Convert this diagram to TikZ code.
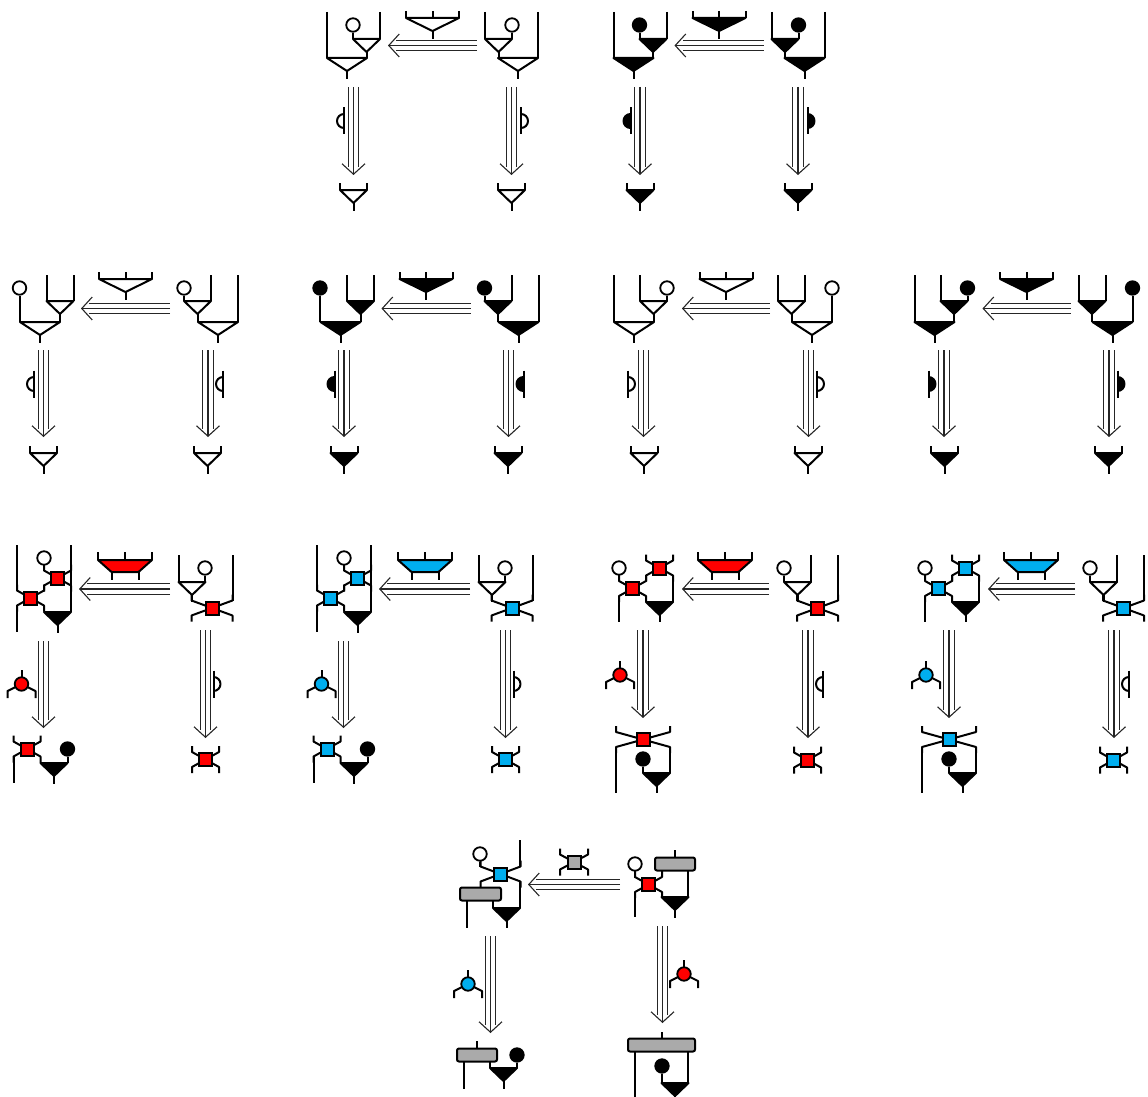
\documentclass[tikz,border=0pt]{standalone}
\usepackage{tikz}
\usetikzlibrary{arrows.meta,calc,positioning}
\definecolor{alphared}{HTML}{FF0000}
\definecolor{betablue}{HTML}{00AEEF}
\definecolor{slotgray}{HTML}{AAAAAA}
\newcommand{\triplearrow}[2]{%
  \draw[rail] (#1) -- (#2);
  \draw[railtip] (#1) -- (#2);}
\tikzset{
  wire/.style    = {line width=2pt, line join=round},
  rail/.style    = {line width=1.1pt, draw=black!85, double=white, double distance=9.6pt, shorten >=8pt},
  railtip/.style = {line width=1.1pt, draw=black!85, -{Straight Barb[length=10.5pt,width=23pt]}},
  dot/.style     = {circle, draw, line width=1.8pt, minimum size=13.5pt, inner sep=0pt},
  sqbox/.style   = {draw, line width=2pt, minimum size=13pt, inner sep=0pt},
  slot/.style    = {draw, line width=2pt, fill=slotgray, rounded corners=2pt, inner sep=0pt, minimum height=13pt},
  pics/tri/.style n args={3}{code={
    \draw[wire, fill=#2] (-#1,0) -- (#1,0) -- (0,13) -- cycle;
    \draw[wire] (0,13) -- (0,{13+#3});
  }},
  pics/tristub/.style 2 args={code={
    \draw[wire] (-#1,-7) -- (-#1,0) (#1,-7) -- (#1,0);
    \draw[wire, fill=#2] (-#1,0) -- (#1,0) -- (0,13) -- cycle;
    \draw[wire] (0,13) -- (0,21);
  }},
  pics/trap/.style = {code={
    \draw[wire] (-27,-8) -- (-27,0) (0,-8) -- (0,0) (27,-8) -- (27,0);
    \draw[wire] (-13.5,12) -- (-13.5,20) (13.5,12) -- (13.5,20);
    \draw[wire, fill=#1] (-27,0) -- (27,0) -- (13.5,12) -- (-13.5,12) -- cycle;
  }},
  pics/semi/.style 2 args={code={
    \draw[wire, fill=#2] (0,-7) arc[start angle=90, end angle={90-180*#1}, radius=7pt];
    \draw[wire] (0,-13.5) -- (0,13.5);
  }},
  pics/sq/.style 2 args={code={
    \draw[wire] (-#1,-13.5) -- (-#1,-7.5) -- (#1,7.5) -- (#1,13.5);
    \draw[wire] (#1,-13.5) -- (#1,-7.5) -- (-#1,7.5) -- (-#1,13.5);
    \node[sqbox, fill=#2] (body) at (0,0) {};
  }},
  pics/leg/.style = {code={
    \draw[wire] (0,-14) -- (0,0);
    \draw[wire] (-14,14) -- (-14,7) -- (0,0) -- (14,7) -- (14,14);
    \node[dot, fill=#1] (body) at (0,0) {};
  }},
}
\begin{document}
\begin{tikzpicture}[x=1pt,y=-1pt]
  \useasboundingbox (0,0) rectangle (1148,1097);

  % first row
  \foreach \dx/\col in {0/white,286.5/black}{
  \begin{scope}[xshift=\dx]
    \node[dot, fill=\col] (u1) at (353,25) {};
    \node[dot, fill=\col] (u2) at (512,25) {};
    \draw[wire] (327,12) -- (327,58);
    \draw[wire] (380,12) -- (380,39);
    \draw[wire] (u1) -- (353,39);
    \pic at (347,58) {tri={20}{\col}{8}};
    \pic at (366.5,39) {tri={13.5}{\col}{6}};
    \draw[wire] (538,12) -- (538,58);
    \draw[wire] (485,12) -- (485,39);
    \draw[wire] (u2) -- (512,39);
    \pic at (518,58) {tri={20}{\col}{8}};
    \pic at (498.5,39) {tri={13.5}{\col}{6}};
    \pic at (432.5,18) {tristub={26.5}{\col}};
    \draw[wire] (432.5,11) -- (432.5,18);
    \coordinate (e1) at (477,45.5); \coordinate (e2) at (388,45.5);
    \triplearrow{e1}{e2}
    \coordinate (e3) at (353.5,87); \coordinate (e4) at (353.5,175);
    \triplearrow{e3}{e4}
    \coordinate (e5) at (511.5,87); \coordinate (e6) at (511.5,175);
    \triplearrow{e5}{e6}
    \pic at (344,121) {semi={-1}{\col}};
    \pic at (521,121) {semi={1}{\col}};
    \pic at (353.5,190) {tristub={13.5}{\col}};
    \pic at (511.5,190) {tristub={13.5}{\col}};
  \end{scope}}

  % second row, unit on the outside
  \foreach \dx/\col in {0/white,300.5/black}{
  \begin{scope}[xshift=\dx]
    \node[dot, fill=\col] (u1) at (19.5,288) {};
    \node[dot, fill=\col] (u2) at (184,288) {};
    \draw[wire] (u1) -- (19.5,322);
    \draw[wire] (46.5,275) -- (46.5,301);
    \draw[wire] (73.5,275) -- (73.5,301);
    \pic at (40,322) {tri={20}{\col}{8}};
    \pic at (60,301) {tri={13.5}{\col}{8}};
    \draw[wire] (u2) -- (184,301);
    \draw[wire] (211,275) -- (211,301);
    \draw[wire] (238,275) -- (238,322);
    \pic at (218,322) {tri={20}{\col}{8}};
    \pic at (197.5,301) {tri={13.5}{\col}{8}};
    \pic at (125.5,279) {tristub={26.5}{\col}};
    \draw[wire] (125.5,272) -- (125.5,279);
    \coordinate (e1) at (170,308.5); \coordinate (e2) at (81,308.5);
    \triplearrow{e1}{e2}
    \coordinate (e3) at (43.5,350); \coordinate (e4) at (43.5,437);
    \triplearrow{e3}{e4}
    \coordinate (e5) at (208,350); \coordinate (e6) at (208,437);
    \triplearrow{e5}{e6}
    \pic at (34,384) {semi={-1}{\col}};
    \pic at (223,384) {semi={-1}{\col}};
    \pic at (43.5,453) {tristub={13.5}{\col}};
    \pic at (207.5,453) {tristub={13.5}{\col}};
  \end{scope}}

  % second row, unit on the inside
  \foreach \dx/\col in {0/white,300.5/black}{
  \begin{scope}[xshift=\dx]
    \node[dot, fill=\col] (u1) at (667,288) {};
    \node[dot, fill=\col] (u2) at (832,288) {};
    \draw[wire] (614,275) -- (614,322);
    \draw[wire] (640,275) -- (640,301);
    \draw[wire] (u1) -- (667,301);
    \pic at (634,322) {tri={20}{\col}{8}};
    \pic at (653.5,301) {tri={13.5}{\col}{8}};
    \draw[wire] (778,275) -- (778,301);
    \draw[wire] (805,275) -- (805,301);
    \draw[wire] (u2) -- (832,322);
    \pic at (812,322) {tri={20}{\col}{8}};
    \pic at (791.5,301) {tri={13.5}{\col}{8}};
    \pic at (726,279) {tristub={26.5}{\col}};
    \draw[wire] (726,272) -- (726,279);
    \coordinate (e1) at (770,308.5); \coordinate (e2) at (682,308.5);
    \triplearrow{e1}{e2}
    \coordinate (e3) at (643.5,350); \coordinate (e4) at (643.5,437);
    \triplearrow{e3}{e4}
    \coordinate (e5) at (808.5,350); \coordinate (e6) at (808.5,437);
    \triplearrow{e5}{e6}
    \pic at (628,384) {semi={1}{\col}};
    \pic at (817,384) {semi={1}{\col}};
    \pic at (644,453) {tristub={13.5}{\col}};
    \pic at (808,453) {tristub={13.5}{\col}};
  \end{scope}}

  % third row, left pair
  \foreach \dx/\col in {0/alphared,300/betablue}{
  \begin{scope}[xshift=\dx]
    \node[dot, fill=white] (u1) at (44,558) {};
    \node[dot, fill=white] (u2) at (205,568) {};
    \draw[wire] (17,545) -- (17,591);
    \draw[wire] (17,605) -- (17,632);
    \draw[wire] (u1) -- (44,565);
    \draw[wire] (71,545) -- (71,612);
    \pic at (57.5,612) {tri={13.5}{black}{8}};
    \pic at (30.5,598) {sq={13.5}{\col}};
    \pic at (57.5,578) {sq={13.5}{\col}};
    \draw[wire] (178.5,555) -- (178.5,582);
    \draw[wire] (u2) -- (205,582);
    \draw[wire] (232.5,555) -- (232.5,601);
    \pic at (192,582) {tri={13.5}{white}{7}};
    \pic at (212,608) {sq={20.5}{\col}};
    \pic at (125,560) {trap=\col};
    \coordinate (e1) at (170,589); \coordinate (e2) at (79,589);
    \triplearrow{e1}{e2}
    \coordinate (e3) at (43.5,641); \coordinate (e4) at (43.5,728);
    \triplearrow{e3}{e4}
    \coordinate (e5) at (205.5,630); \coordinate (e6) at (205.5,738);
    \triplearrow{e5}{e6}
    \pic at (21.5,684) {leg=\col};
    \pic at (213.5,684) {semi={1}{white}};
    \node[dot, fill=black] (u3) at (67.5,749) {};
    \draw[wire] (13.5,756) -- (13.5,783);
    \draw[wire] (u3) -- (67.5,763);
    \pic at (54,763) {tri={13.5}{black}{8}};
    \pic at (27,749) {sq={13.5}{\col}};
    \pic at (205.5,759.5) {sq={13.5}{\col}};
  \end{scope}}

  % third row, right pair
  \foreach \dx/\col in {0/alphared,306/betablue}{
  \begin{scope}[xshift=\dx]
    \node[dot, fill=white] (u1) at (619,568) {};
    \node[dot, fill=white] (u2) at (784,568) {};
    \draw[wire] (u1) -- (619,576);
    \draw[wire] (619,596) -- (619,622);
    \draw[wire] (673,575) -- (673,602);
    \pic at (659.5,602) {tri={13.5}{black}{7}};
    \pic at (632.5,588.5) {sq={13.5}{\col}};
    \pic at (659.5,568) {sq={13.5}{\col}};
    \draw[wire] (u2) -- (784,582);
    \draw[wire] (811,555) -- (811,582);
    \draw[wire] (838,555) -- (838,601);
    \pic at (797.5,582) {tri={13.5}{white}{7}};
    \pic at (817.5,608) {sq={20.5}{\col}};
    \pic at (725,560) {trap=\col};
    \coordinate (e1) at (769,589); \coordinate (e2) at (682,589);
    \triplearrow{e1}{e2}
    \coordinate (e3) at (643,630); \coordinate (e4) at (643,718);
    \triplearrow{e3}{e4}
    \coordinate (e5) at (808,630); \coordinate (e6) at (808,738);
    \triplearrow{e5}{e6}
    \pic at (620,675) {leg=\col};
    \pic at (823,684) {semi={-1}{white}};
    \node[dot, fill=black] (u3) at (643,759) {};
    \draw[wire] (616,747) -- (616,793);
    \draw[wire] (670,747) -- (670,773);
    \draw[wire] (u3) -- (643,773);
    \pic at (656.5,773) {tri={13.5}{black}{7}};
    \pic at (643,739.5) {sq={27}{\col}};
    \pic at (807.5,760) {sq={13.5}{\col}};
  \end{scope}}

  % last row
  \node[dot, fill=white] (u1) at (480,854) {};
  \draw[wire] (u1) -- (480,867);
  \draw[wire] (520,840) -- (520,866);
  \draw[wire] (520,882) -- (520,908);
  \pic at (506.5,908) {tri={13.5}{black}{7}};
  \pic at (500.5,874) {sq={20}{betablue}};
  \node[slot, minimum width=41pt] (s1) at (480.5,894) {};
  \draw[wire] (467,901) -- (467,928);
  \draw[wire] (493,901) -- (493,908);
  \node[dot, fill=white] (u2) at (635,864) {};
  \draw[wire] (u2) -- (635,878);
  \draw[wire] (635,892) -- (635,917);
  \draw[wire] (688,871) -- (688,897);
  \pic at (675,897) {tri={13.5}{black}{8}};
  \pic at (648.5,884.5) {sq={13.5}{alphared}};
  \node[slot, minimum width=40pt] (s2) at (675,864) {};
  \draw[wire] (675,850) -- (s2);
  \pic at (574,862) {sq={14}{slotgray}};
  \coordinate (e1) at (620,884.5); \coordinate (e2) at (528,884.5);
  \triplearrow{e1}{e2}
  \coordinate (e3) at (490.5,936); \coordinate (e4) at (490.5,1033);
  \triplearrow{e3}{e4}
  \coordinate (e5) at (662.5,926); \coordinate (e6) at (662.5,1023);
  \triplearrow{e5}{e6}
  \pic at (468,984) {leg=betablue};
  \pic at (684,974) {leg=alphared};
  \node[slot, minimum width=40pt] (s3) at (477,1055) {};
  \node[dot, fill=black] (u3) at (517,1055) {};
  \draw[wire] (477,1041) -- (s3);
  \draw[wire] (464,1062) -- (464,1089);
  \draw[wire] (490,1062) -- (490,1068);
  \draw[wire] (u3) -- (517,1068);
  \pic at (503.5,1068) {tri={13.5}{black}{8}};
  \node[slot, minimum width=67pt] (s4) at (661.5,1045) {};
  \node[dot, fill=black] (u4) at (662,1066) {};
  \draw[wire] (661.5,1032) -- (s4);
  \draw[wire] (635,1052) -- (635,1097);
  \draw[wire] (688,1052) -- (688,1083);
  \draw[wire] (u4) -- (662,1083);
  \pic at (675,1083) {tri={13.5}{black}{6}};
\end{tikzpicture}
\end{document}
